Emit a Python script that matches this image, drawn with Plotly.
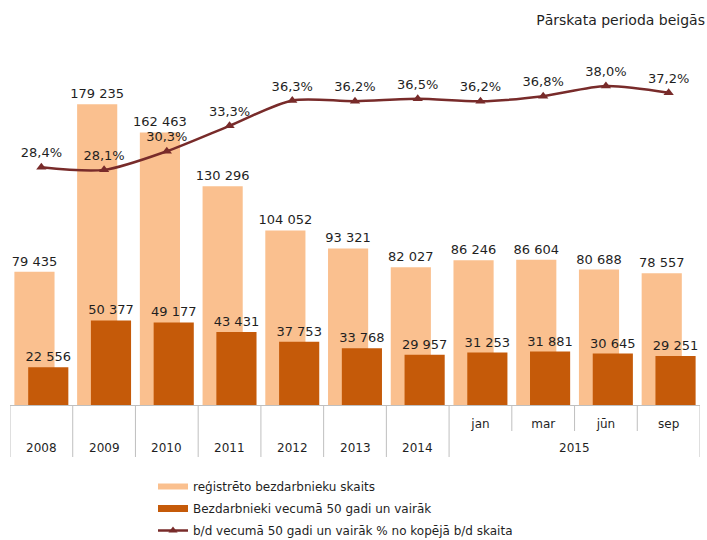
import plotly.graph_objects as go

# ---- data ----
years = ["2008", "2009", "2010", "2011", "2012", "2013", "2014", "2015", "2015", "2015", "2015"]
months = ["", "", "", "", "", "", "", "jan", "mar", "jūn", "sep"]
registered = [79435, 179235, 162463, 130296, 104052, 93321, 82027, 86246, 86604, 80688, 78557]
aged50 = [22556, 50377, 49177, 43431, 37753, 33768, 29957, 31253, 31881, 30645, 29251]
share = [28.4, 28.1, 30.3, 33.3, 36.3, 36.2, 36.5, 36.2, 36.8, 38.0, 37.2]

names = [
    "reģistrēto bezdarbnieku skaits",
    "Bezdarbnieki vecumā 50 gadi un vairāk",
    "b/d vecumā 50 gadi un vairāk % no kopējā b/d skaita",
]
title_text = "Pārskata perioda beigās"

# ---- styling ----
FONT = "DejaVu Sans"
C_LIGHT = "#FAC08F"
C_DARK = "#C55A09"
C_LINE = "#782B2A"
TXT = "#1F1F1F"
GRID = "#BFBFBF"

idx = list(range(len(years)))


def fmt_int(v):
    return f"{v:,}".replace(",", " ")


def fmt_pct(v):
    return f"{v:.1f}%".replace(".", ",")


fig = go.Figure()

fig.add_trace(go.Bar(
    x=idx, y=registered, width=0.64, offset=-0.43,
    marker=dict(color=C_LIGHT, line=dict(width=0)),
    text=[fmt_int(v) for v in registered], textposition="outside",
    constraintext="none", cliponaxis=False,
    textfont=dict(family=FONT, size=13, color=TXT),
    showlegend=False, name=names[0], hoverinfo="skip",
))
fig.add_trace(go.Bar(
    x=idx, y=aged50, width=0.64, offset=-0.21,
    marker=dict(color=C_DARK, line=dict(width=0)),
    text=[fmt_int(v) for v in aged50], textposition="outside",
    constraintext="none", cliponaxis=False,
    textfont=dict(family=FONT, size=13, color=TXT),
    showlegend=False, name=names[1], hoverinfo="skip",
))
fig.add_trace(go.Scatter(
    x=idx, y=share, yaxis="y2", mode="lines+markers+text",
    line=dict(color=C_LINE, width=2.5, shape="spline", smoothing=0.8),
    marker=dict(symbol="triangle-up", size=9, color=C_LINE),
    text=[fmt_pct(v) for v in share], textposition="top center",
    textfont=dict(family=FONT, size=13, color=TXT),
    cliponaxis=False, showlegend=False, name=names[2], hoverinfo="skip",
))

# legend-only entries
fig.add_trace(go.Scatter(x=[None], y=[None], mode="lines", name=names[0],
                         line=dict(color=C_LIGHT, width=6), legendgroup="a"))
fig.add_trace(go.Scatter(x=[None], y=[None], mode="lines", name=names[1],
                         line=dict(color=C_DARK, width=7), legendgroup="b"))
fig.add_trace(go.Scatter(x=[None], y=[None], mode="lines+markers", name=names[2],
                         line=dict(color=C_LINE, width=2.5),
                         marker=dict(symbol="triangle-up", size=8, color=C_LINE),
                         legendgroup="c"))

PLOT_H = 355.0
shapes = []
n = len(years)
for b in range(n + 1):
    full = b == 0 or b == n or years[b - 1] != years[b]
    depth = 52 if full else 26
    shapes.append(dict(type="line", xref="x", yref="paper",
                       x0=b - 0.5, x1=b - 0.5, y0=0, y1=-depth / PLOT_H,
                       line=dict(color=GRID, width=1)))

annotations = []
groups = []
for i, y in enumerate(years):
    if groups and groups[-1][0] == y:
        groups[-1][1].append(i)
    else:
        groups.append((y, [i]))
for y, members in groups:
    annotations.append(dict(x=sum(members) / len(members), y=-43 / PLOT_H,
                            xref="x", yref="paper", text=y, showarrow=False,
                            yanchor="middle", xanchor="center",
                            font=dict(family=FONT, size=12, color=TXT)))

fig.update_layout(
    width=707, height=540,
    margin=dict(l=10, r=7, t=50, b=135),
    paper_bgcolor="white", plot_bgcolor="white",
    barmode="overlay",
    title=dict(text=title_text, x=705 / 707, xanchor="right", xref="container",
               y=1 - 20 / 540, yanchor="middle", yref="container",
               font=dict(family=FONT, size=14, color=TXT)),
    xaxis=dict(range=[-0.5, n - 0.5], tickvals=idx, ticktext=months,
               ticks="", showgrid=False, zeroline=False,
               showline=True, linecolor=GRID, linewidth=1,
               tickfont=dict(family=FONT, size=12, color=TXT),
               ticklabelstandoff=8, fixedrange=True),
    yaxis=dict(range=[0, PLOT_H / 1.678 * 1000], visible=False,
               showgrid=False, zeroline=False, fixedrange=True),
    yaxis2=dict(range=[0.34, 0.34 + PLOT_H / 8.47], overlaying="y",
                visible=False, showgrid=False, zeroline=False, fixedrange=True),
    legend=dict(x=(153 - 10) / 690, xanchor="left",
                y=1 - 472 / 540, yref="container", yanchor="top",
                orientation="v",
                font=dict(family=FONT, size=12, color=TXT),
                traceorder="grouped", tracegroupgap=3,
                bgcolor="rgba(0,0,0,0)"),
    shapes=shapes,
    annotations=annotations,
    font=dict(family=FONT, color=TXT),
)

fig.write_html("out.html", config={"displayModeBar": False},
               post_script="document.body.style.margin='0';")
